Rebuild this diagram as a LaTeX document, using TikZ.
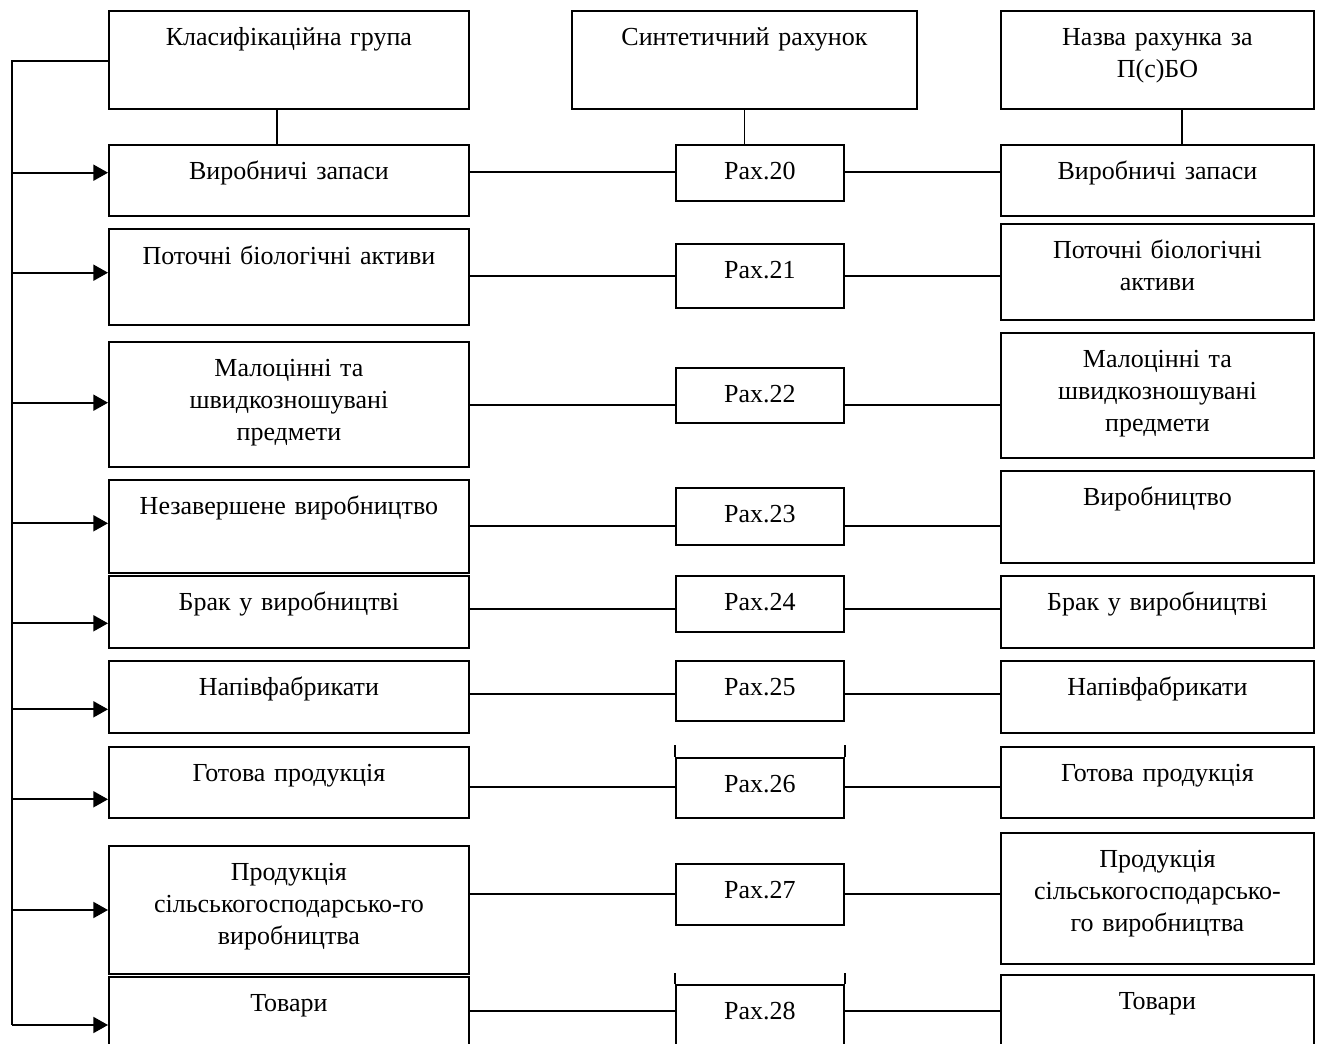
\documentclass[tikz,border=0pt]{standalone}
\usepackage{fontspec}
\setmainfont{Liberation Serif}
\usetikzlibrary{arrows.meta}

\begin{document}
\begin{tikzpicture}[x=0.75pt,y=-0.75pt,font=\fontsize{19.5}{23.8}\selectfont]
% Стилі
\tikzset{cell/.style={draw,line width=1.4pt,anchor=north west,inner sep=0pt,align=center,text height=26.25pt,text depth={#1*0.75pt-26.25pt}},
  thin link/.style={line width=1.2pt},
  thick link/.style={line width=1.8pt},
  rail/.style={line width=1.4pt,-{Triangle[length=11pt,width=12pt]}}}

\path[use as bounding box] (0,0) rectangle (1318,1044);
\clip (0,0) rectangle (1318,1044);

% Класифікаційні групи
\foreach \n/\y/\h/\s in {lh/10/98/{Класифікаційна група}, l1/144/71/{Виробничі запаси}, l2/228.5/95.5/{Поточні біологічні активи}, l3/341/125/{Малоцінні та\\швидкозношувані\\предмети}, l4/479/93/{Незавершене виробництво}, l5/575/72/{Брак у виробництві}, l6/660/72/{Напівфабрикати}, l7/746/71/{Готова продукція}, l8/845/128/{Продукція\\сільськогосподарсько-го\\виробництва}, l9/976/90/{Товари}}
    \node[cell=\h,text width=270pt] (\n) at (108,\y) {\s};

% Синтетичні рахунки
\node[cell=98,text width=258.75pt] (mh) at (571,10) {Синтетичний рахунок};
\foreach \n/\y/\h/\s in {m1/144/56/20, m2/243/64/21, m3/367/55/22, m4/487/57/23, m5/575/56/24, m6/660/60/25, m7/757/60/26, m8/863/61/27, m9/984/90/28}
    \node[cell=\h,text width=126pt] (\n) at (675,\y) {Рах.\s};

% Назви за П(с)БО
\foreach \n/\y/\h/\s in {rh/10/98/{Назва рахунка за\\П(с)БО}, r1/144/71/{Виробничі запаси}, r2/223/96/{Поточні біологічні\\активи}, r3/332/125/{Малоцінні та\\швидкозношувані\\предмети}, r4/470/92/{Виробництво}, r5/575/72/{Брак у виробництві}, r6/660/72/{Напівфабрикати}, r7/746/71/{Готова продукція}, r8/832/131/{Продукція\\сільськогосподарсько-\\го виробництва}, r9/974/90/{Товари}}
    \node[cell=\h,text width=234.75pt] (\n) at (1000,\y) {\s};

% з'єднання заголовків
\coordinate (lc) at (277,0);
\coordinate (rc) at (1182,0);
\draw[thin link] (lh.south -| lc) -- (l1.north -| lc) (mh.south) -- (mh.south |- m1.north) (rh.south -| rc) -- (r1.north -| rc);

\foreach \i/\y/\st in {1/172/thin link, 2/276/thin link, 3/405/thin link, 4/526/thin link, 5/609/thick link, 6/694/thick link, 7/787/thick link, 8/894/thin link, 9/1011/thick link}{
    \coordinate (y\i) at (0,\y);
    \draw[\st] (l\i.east |- y\i) -- (m\i.west |- y\i) (m\i.east |- y\i) -- (r\i.west |- y\i);
}

\draw[line width=1.4pt] (m7.north west) -- ++(0,-12) (m7.north east) -- ++(0,-12) (m9.north west) -- ++(0,-11) (m9.north east) -- ++(0,-11);

% ліва шина
\coordinate (rt) at (12,61);
\coordinate (rb) at (12,1025);
\draw[line width=1.4pt] (lh.west |- rt) -- (rt) -- (rb);
\foreach \i/\y in {1/172.7, 2/272.7, 3/402.7, 4/523.3, 5/623.3, 6/709.3, 7/799.3, 8/910, 9/1025}{
    \coordinate (a\i) at (12,\y);
    \draw[rail] (a\i) -- (a\i -| l\i.west);
}

\end{tikzpicture}
\end{document}
